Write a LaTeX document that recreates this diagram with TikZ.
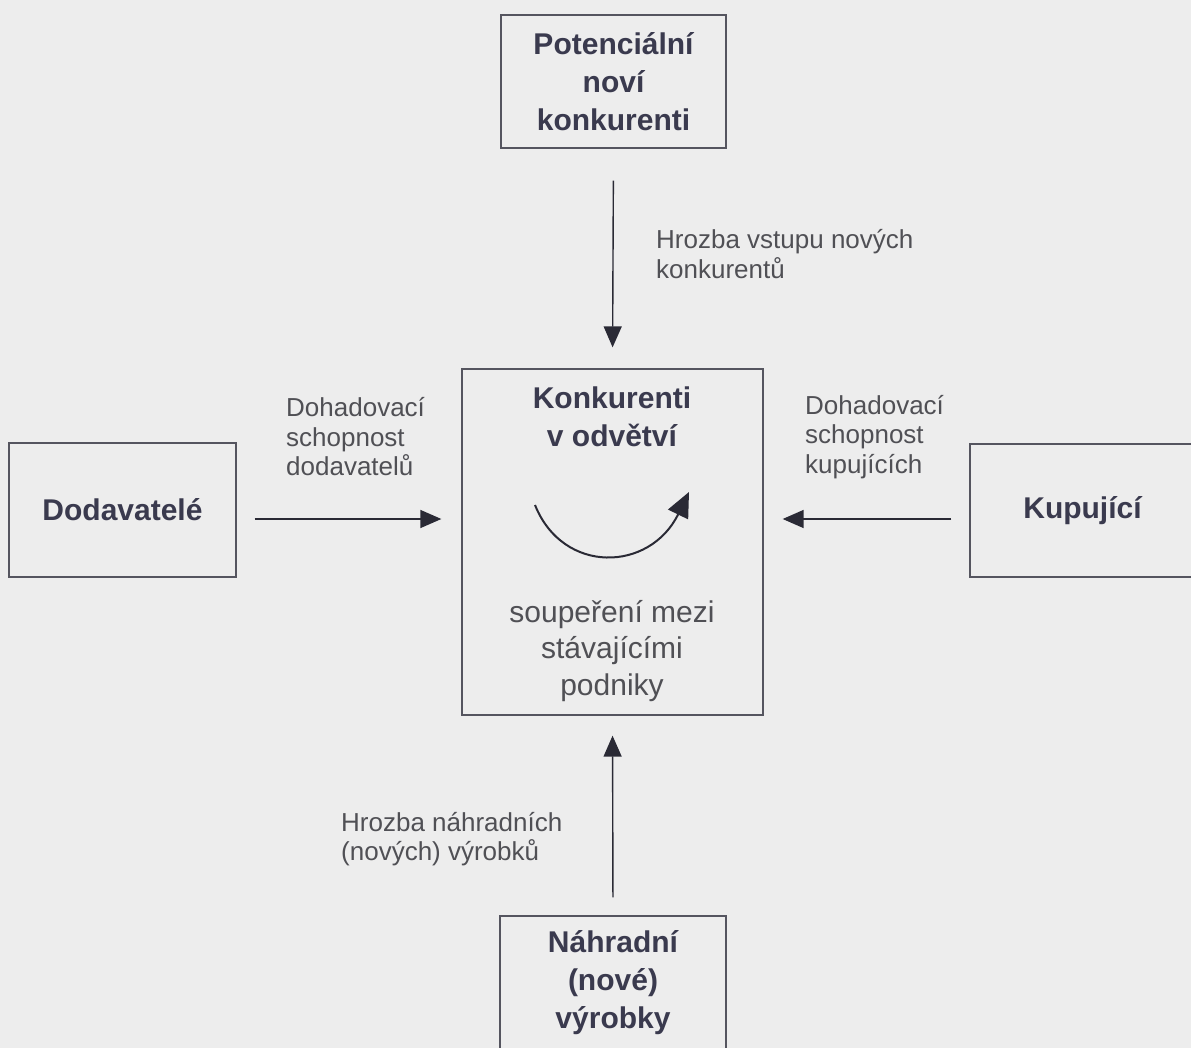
\documentclass[tikz,border=0pt]{standalone}
\usepackage{fontspec}
\setmainfont{Liberation Sans}
\usetikzlibrary{arrows.meta}
\definecolor{bg}{HTML}{EDEDED}
\definecolor{boxtxt}{HTML}{3A3A4E}
\definecolor{lbltxt}{HTML}{505055}
\definecolor{linec}{HTML}{55555F}
\definecolor{arrc}{HTML}{2A2A35}
\tikzset{
  fbox/.style={draw=linec, line width=1.3pt, minimum width=225pt, minimum height=133pt, inner sep=0pt,
    align=center, text=boxtxt, font=\fontsize{30}{38}\selectfont\bfseries},
  lbl/.style={anchor=west, inner sep=0pt, align=left, text=lbltxt, font=\fontsize{26}{29.5}\selectfont},
  flow/.style={draw=arrc, line width=1.4pt, -{Triangle[length=21pt,width=18pt]}},
}
\begin{document}
\begin{tikzpicture}[x=1pt,y=-1pt]
\fill[bg] (0,0) rectangle (1191,1048);
\useasboundingbox (0,0) rectangle (1191,1048);
\begin{scope}
\clip (0,0) rectangle (1191,1048);
\node[fbox] (top) at (613.5,81.5) {Potenciální\\noví\\konkurenti};
\node[fbox, minimum width=227pt, minimum height=134pt] (left) at (122.5,510) {Dodavatelé};
\node[fbox] (right) at (1082.5,510.5) {Kupující};
\node[fbox, minimum width=226pt] (bottom) at (613,982.5) {Náhradní\\(nové)\\výrobky};
\node[draw=linec, line width=1.3pt, minimum width=301pt, minimum height=346pt, inner sep=0pt] (comp) at (612.5,542) {};
\end{scope}
\node[align=center, text=boxtxt, font=\fontsize{30}{38}\selectfont\bfseries, inner sep=0pt] (ctitle) at (612,417) {Konkurenti\\v odvětví};
\node[align=center, text=lbltxt, font=\fontsize{30}{36.5}\selectfont, inner sep=0pt] (csub) at (612,651) {soupeření mezi\\stávajícími\\podniky};
\coordinate (ra) at (535,505);
\coordinate (rb) at (689,492);
\draw[draw=arrc, line width=2pt, -{Triangle[length=25pt,width=22pt]}] (ra) .. controls (563,575) and (650,572) .. (rb);

\draw[flow, shorten <=32pt, shorten >=21pt] (top.south) -- (comp.north);
\draw[flow, shorten <=18pt, shorten >=20pt] (bottom.north) -- (comp.south);
\draw[flow, shorten <=18pt, shorten >=20pt] ([yshift=-9pt]left.east) -- ([yshift=-9pt]left.east -| comp.west);
\draw[flow, shorten <=18pt, shorten >=19pt] ([yshift=-8.5pt]right.west) -- ([yshift=-8.5pt]right.west -| comp.east);

\node[lbl] (l1) at (656,254) {Hrozba vstupu nových\\konkurentů};
\node[lbl] (l2) at (286,437) {Dohadovací\\schopnost\\dodavatelů};
\node[lbl] (l3) at (805,437) {Dohadovací\\schopnost\\kupujících};
\node[lbl] (l4) at (341,839) {Hrozba náhradních\\(nových) výrobků};
\end{tikzpicture}
\end{document}
